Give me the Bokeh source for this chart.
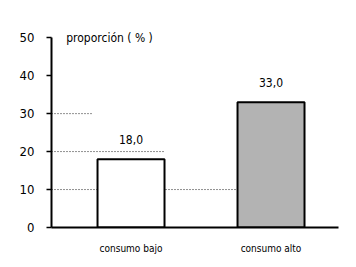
from bokeh.plotting import figure
from bokeh.models import Range1d, FixedTicker, ColumnDataSource
from bokeh.core.properties import value
from bokeh.embed import file_html
from bokeh.resources import INLINE

categories = ["consumo bajo", "consumo alto"]
values = [18.0, 33.0]
value_labels = ["18,0", "33,0"]
colors = ["#ffffff", "#b3b3b3"]
y_ticks = [0, 10, 20, 30, 40, 50]
y_title = "proporción ( % )"

centers = [1.136, 3.136]
bar_w = 0.957
FONT = "DejaVu Sans Condensed"

p = figure(width=348, height=259, output_backend="svg", toolbar_location=None,
           x_range=Range1d(0, 4.1), y_range=Range1d(0, 54),
           min_border_left=51, min_border_right=10, min_border_top=22, min_border_bottom=32)
p.outline_line_color = None
p.xgrid.visible = False
p.ygrid.visible = False

# partial dotted gridlines (as in the original)
g_y = [10, 20, 30]
g_x1 = [centers[1] - bar_w / 2, centers[0] + bar_w / 2, 0.59]
p.segment(x0=[0, 0, 0], y0=g_y, x1=g_x1, y1=g_y, line_color="#222222",
          line_dash="1 2", line_width=1)

src = ColumnDataSource(dict(x=centers, top=values, color=colors, lab=value_labels))
p.vbar(x="x", top="top", width=bar_w, bottom=0, fill_color="color",
       line_color="black", line_width=2, source=src)
p.text(x="x", y="top", text="lab", source=src, text_align="center", text_baseline="bottom",
       y_offset=-15, text_font=value(FONT), text_font_size="12px", text_color="black")

p.text(x=[0.21], y=[50], text=[y_title], text_align="left", text_baseline="middle",
       text_font=value(FONT), text_font_size="12px", text_color="black")

ya = p.yaxis[0]
ya.ticker = FixedTicker(ticks=y_ticks)
ya.bounds = (0, 50)
ya.axis_line_width = 2
ya.axis_line_color = "black"
ya.major_tick_in = 0
ya.major_tick_out = 5
ya.major_tick_line_width = 1.5
ya.minor_tick_line_color = None
ya.major_label_standoff = 12
ya.major_label_text_font = FONT
ya.major_label_text_font_size = "13px"
ya.major_label_text_color = "black"

xa = p.xaxis[0]
xa.ticker = FixedTicker(ticks=centers)
xa.major_label_overrides = {centers[0]: categories[0], centers[1]: categories[1]}
xa.axis_line_width = 2
xa.axis_line_color = "black"
xa.major_tick_line_color = None
xa.minor_tick_line_color = None
xa.major_label_standoff = 9
xa.major_label_text_font = FONT
xa.major_label_text_font_size = "10px"
xa.major_label_text_color = "black"

open("out.html", "w").write(file_html(p, INLINE))
